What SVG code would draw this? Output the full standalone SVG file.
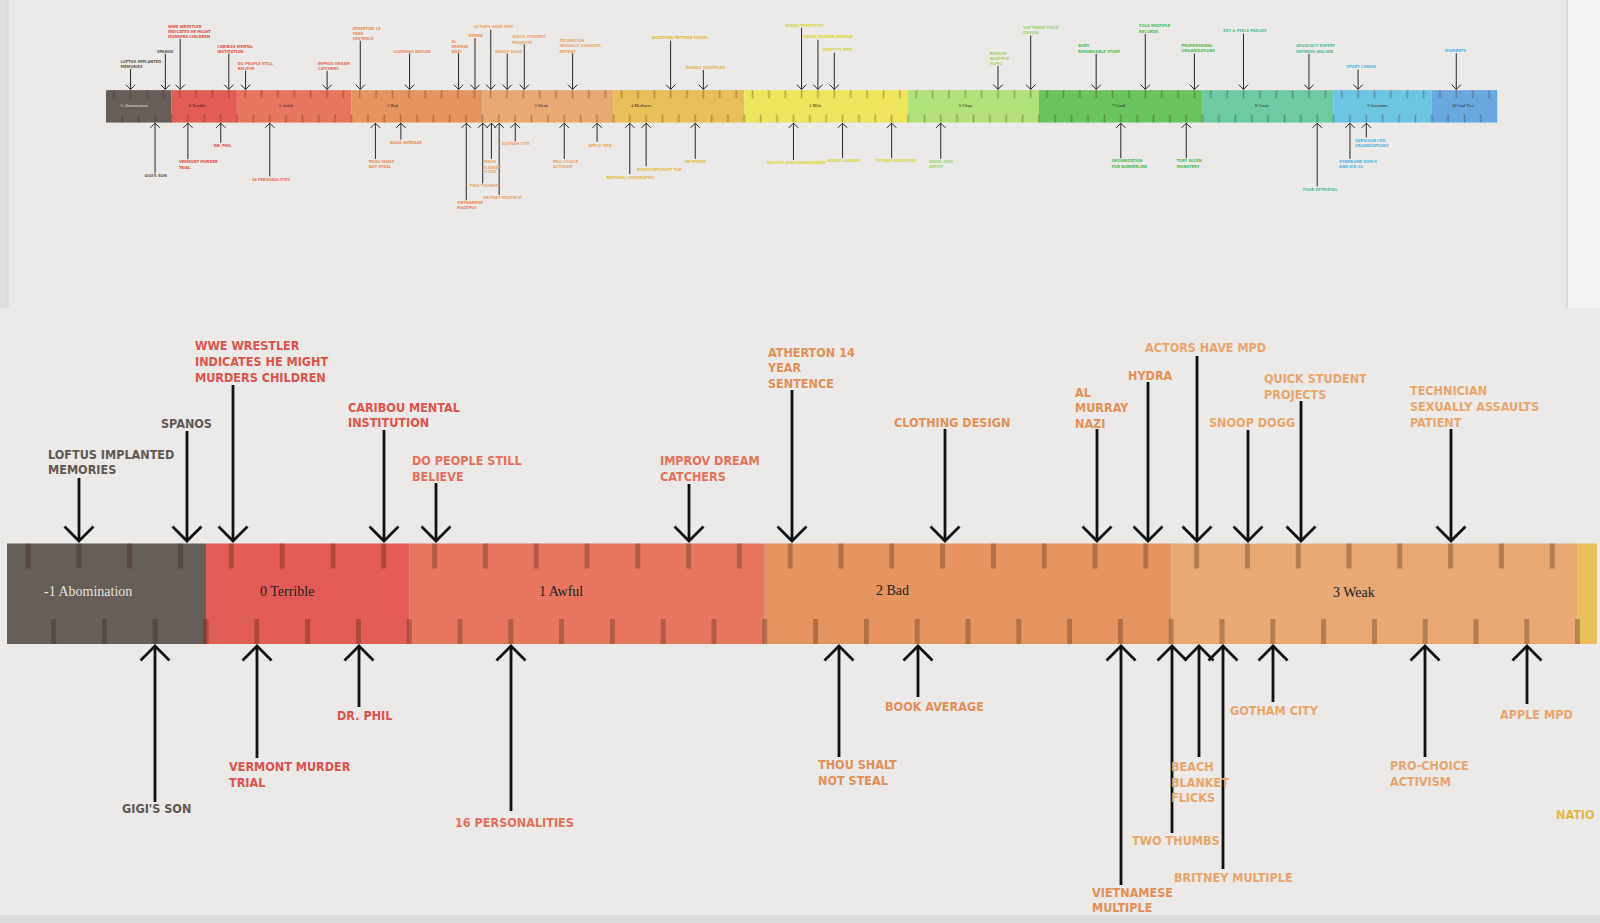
<svg xmlns="http://www.w3.org/2000/svg" xmlns:xlink="http://www.w3.org/1999/xlink" width="1600" height="923" viewBox="0 0 1600 923">
<style>
.lbl{font-family:"DejaVu Sans Condensed","DejaVu Sans",sans-serif;font-stretch:condensed;font-weight:700;font-size:12.5px}
.seg{font-family:"Liberation Serif",serif;font-size:14px;fill:#222}
.cm{fill:#5f5854}.c0{fill:#e0524d}.c1{fill:#e5715a}.c2{fill:#e38f58}.c3{fill:#e8a66c}.c4{fill:#e3b84a}.c5{fill:#ddd53a}.c6{fill:#a2d468}.c7{fill:#55b954}.c8{fill:#55be9c}.c9{fill:#55b5de}
.arr{fill:none;stroke:#111;stroke-width:2.8;marker-end:url(#chev)}
</style>
<defs>
<marker id="chev" markerUnits="userSpaceOnUse" viewBox="-16 -16 32 32" refX="0" refY="0" markerWidth="32" markerHeight="32" orient="auto" overflow="visible">
<path d="M-14.5,-14.5 L0,0 L-14.5,14.5" fill="none" stroke="#111" stroke-width="2.8"/>
</marker>
<pattern id="tkTop" patternUnits="userSpaceOnUse" x="2.8" y="543.5" width="50.8" height="25"><rect x="22.9" y="0" width="5" height="25" fill="#3a1a0a" fill-opacity="0.3"/></pattern>
<pattern id="tkBot" patternUnits="userSpaceOnUse" x="-22.6" y="619" width="50.8" height="25"><rect x="22.9" y="0" width="5" height="25" fill="#3a1a0a" fill-opacity="0.3"/></pattern>
<clipPath id="viewClip"><rect x="7" y="312" width="1590" height="603"/></clipPath>
</defs>
<rect x="0" y="0" width="1600" height="923" fill="#ebeae8"/>
<rect x="0" y="0" width="8" height="308" fill="#e0dfdd"/>
<line x1="8" y1="0" x2="8" y2="308" stroke="#d2d1cf" stroke-width="1"/>
<rect x="1567" y="0" width="33" height="308" fill="#f2f2f1"/>
<line x1="1567" y1="0" x2="1567" y2="308" stroke="#cfcfcd" stroke-width="1.2"/>
<rect x="0" y="915" width="1600" height="8" fill="#dcdbd9"/>

<!-- enlarged view -->
<g id="view" clip-path="url(#viewClip)">
<g id="view-edge">
<rect x="1577.6" y="543.5" width="19.4" height="100.5" fill="#e9bf5b"/>
<g id="n-natio"><text class="lbl c4" x="1556" y="819">NATIO</text></g>
</g>
<g id="tl-main">
<g id="bar-main">
<g id="seg-m1"><rect x="2.8" y="543.5" width="203.2" height="100.5" fill="#665e59"/><text class="seg" x="44" y="596" style="fill:#e6e2de">-1 Abomination</text></g>
<g id="seg-0"><rect x="206" y="543.5" width="203.2" height="100.5" fill="#e25d57"/><text class="seg" x="260" y="596">0 Terrible</text></g>
<g id="seg-1"><rect x="409.2" y="543.5" width="355.6" height="100.5" fill="#e6775e"/><text class="seg" x="539" y="596">1 Awful</text></g>
<g id="seg-2"><rect x="764.8" y="543.5" width="406.4" height="100.5" fill="#e69560"/><text class="seg" x="876" y="595">2 Bad</text></g>
<g id="seg-3"><rect x="1171.2" y="543.5" width="406.4" height="100.5" fill="#eaa972"/><text class="seg" x="1333" y="597">3 Weak</text></g>
<rect x="2.8" y="543.5" width="1574.8" height="25" fill="url(#tkTop)"/>
<rect x="28" y="619" width="1552.1" height="25" fill="url(#tkBot)"/>
</g>
<g id="connectors-main">
<path class="arr" d="M79,478 V541"/>
<path class="arr" d="M187,431 V541"/>
<path class="arr" d="M233,385 V541"/>
<path class="arr" d="M384,430 V541"/>
<path class="arr" d="M436,483 V541"/>
<path class="arr" d="M689,484 V541"/>
<path class="arr" d="M792,390 V541"/>
<path class="arr" d="M945,429 V541"/>
<path class="arr" d="M1097,429 V541"/>
<path class="arr" d="M1148,382 V541"/>
<path class="arr" d="M1197,356 V541"/>
<path class="arr" d="M1248,430 V541"/>
<path class="arr" d="M1301,401 V541"/>
<path class="arr" d="M1451,429 V541"/>
<path class="arr" d="M155,802 V646"/>
<path class="arr" d="M257,758 V646"/>
<path class="arr" d="M359,707 V646"/>
<path class="arr" d="M511,811 V646"/>
<path class="arr" d="M839,757 V646"/>
<path class="arr" d="M918,697 V646"/>
<path class="arr" d="M1121,885 V646"/>
<path class="arr" d="M1172,833 V646"/>
<path class="arr" d="M1199,757 V646"/>
<path class="arr" d="M1223,869 V646"/>
<path class="arr" d="M1273,702 V646"/>
<path class="arr" d="M1425,757 V646"/>
<path class="arr" d="M1527,704 V646"/>
</g>
<g id="nodes-main">
<g id="n-loftus"><text class="lbl cm" x="48" y="459">LOFTUS IMPLANTED<tspan x="48" y="474">MEMORIES</tspan></text></g>
<g id="n-spanos"><text class="lbl cm" x="161" y="428">SPANOS</text></g>
<g id="n-wwe"><text class="lbl c0" x="195" y="350">WWE WRESTLER<tspan x="195" y="366">INDICATES HE MIGHT</tspan><tspan x="195" y="382">MURDERS CHILDREN</tspan></text></g>
<g id="n-caribou"><text class="lbl c0" x="348" y="412">CARIBOU MENTAL<tspan x="348" y="427">INSTITUTION</tspan></text></g>
<g id="n-dopeople"><text class="lbl c1" x="412" y="465">DO PEOPLE STILL<tspan x="412" y="481">BELIEVE</tspan></text></g>
<g id="n-improv"><text class="lbl c1" x="660" y="465">IMPROV DREAM<tspan x="660" y="481">CATCHERS</tspan></text></g>
<g id="n-atherton"><text class="lbl c2" x="768" y="357">ATHERTON 14<tspan x="768" y="372">YEAR</tspan><tspan x="768" y="388">SENTENCE</tspan></text></g>
<g id="n-clothing"><text class="lbl c2" x="894" y="427">CLOTHING DESIGN</text></g>
<g id="n-almurray"><text class="lbl c2" x="1075" y="397">AL<tspan x="1075" y="412">MURRAY</tspan><tspan x="1075" y="428">NAZI</tspan></text></g>
<g id="n-hydra"><text class="lbl c2" x="1128" y="380">HYDRA</text></g>
<g id="n-actors"><text class="lbl c3" x="1145" y="352">ACTORS HAVE MPD</text></g>
<g id="n-snoop"><text class="lbl c3" x="1209" y="427">SNOOP DOGG</text></g>
<g id="n-quick"><text class="lbl c3" x="1264" y="383">QUICK STUDENT<tspan x="1264" y="399">PROJECTS</tspan></text></g>
<g id="n-technician"><text class="lbl c3" x="1410" y="395">TECHNICIAN<tspan x="1410" y="411">SEXUALLY ASSAULTS</tspan><tspan x="1410" y="427">PATIENT</tspan></text></g>
<g id="n-gigi"><text class="lbl cm" x="122" y="813">GIGI'S SON</text></g>
<g id="n-vermont"><text class="lbl c0" x="229" y="771">VERMONT MURDER<tspan x="229" y="787">TRIAL</tspan></text></g>
<g id="n-drphil"><text class="lbl c0" x="337" y="720">DR. PHIL</text></g>
<g id="n-16pers"><text class="lbl c1" x="455" y="827">16 PERSONALITIES</text></g>
<g id="n-thoushalt"><text class="lbl c2" x="818" y="769">THOU SHALT<tspan x="818" y="785">NOT STEAL</tspan></text></g>
<g id="n-bookavg"><text class="lbl c2" x="885" y="711">BOOK AVERAGE</text></g>
<g id="n-vietnamese"><text class="lbl c2" x="1092" y="897">VIETNAMESE<tspan x="1092" y="912">MULTIPLE</tspan></text></g>
<g id="n-twothumbs"><text class="lbl c3" x="1132" y="845">TWO THUMBS</text></g>
<g id="n-beach"><text class="lbl c3" x="1171" y="771">BEACH<tspan x="1171" y="787">BLANKET</tspan><tspan x="1171" y="802">FLICKS</tspan></text></g>
<g id="n-britney"><text class="lbl c3" x="1174" y="882">BRITNEY MULTIPLE</text></g>
<g id="n-gotham"><text class="lbl c3" x="1230" y="715">GOTHAM CITY</text></g>
<g id="n-prochoice"><text class="lbl c3" x="1390" y="770">PRO-CHOICE<tspan x="1390" y="786">ACTIVISM</tspan></text></g>
<g id="n-apple"><text class="lbl c3" x="1500" y="719">APPLE MPD</text></g>
</g>
</g>
</g>

<!-- overview strip -->
<g id="overview" transform="translate(105.1,-84.96) scale(0.3222)">
<g id="tl-rest">
<g id="bar-rest">
<g id="seg-4"><rect x="1577.6" y="543.5" width="406.4" height="100.5" fill="#e9bf5b"/><text class="seg" x="1632" y="596">4 Mediocre</text></g>
<g id="seg-5"><rect x="1984" y="543.5" width="508" height="100.5" fill="#ede55e"/><text class="seg" x="2185" y="596">5 Meh</text></g>
<g id="seg-6"><rect x="2492" y="543.5" width="406.4" height="100.5" fill="#b3e27a"/><text class="seg" x="2650" y="596">6 Okay</text></g>
<g id="seg-7"><rect x="2898.4" y="543.5" width="508" height="100.5" fill="#6bc55f"/><text class="seg" x="3125" y="596">7 Good</text></g>
<g id="seg-8"><rect x="3406.4" y="543.5" width="406.4" height="100.5" fill="#6dcaa3"/><text class="seg" x="3569" y="596">8 Great</text></g>
<g id="seg-9"><rect x="3812.8" y="543.5" width="304.8" height="100.5" fill="#6cc5e2"/><text class="seg" x="3917" y="596">9 Awesome</text></g>
<g id="seg-10"><rect x="4117.6" y="543.5" width="203.2" height="100.5" fill="#69a9e1"/><text class="seg" x="4180" y="596">10 God Tier</text></g>
<rect x="1577.6" y="543.5" width="2743.2" height="25" fill="url(#tkTop)"/>
<rect x="1580.1" y="619" width="2693" height="25" fill="url(#tkBot)"/>
</g>
<g id="connectors-rest">
<path class="arr" d="M1755.2,390 V541"/>
<path class="arr" d="M1856.8,481 V541"/>
<path class="arr" d="M2161.6,350 V541"/>
<path class="arr" d="M2212.4,387 V541"/>
<path class="arr" d="M2263.2,427 V541"/>
<path class="arr" d="M2771.2,468 V541"/>
<path class="arr" d="M2872.8,374 V541"/>
<path class="arr" d="M3076,431 V541"/>
<path class="arr" d="M3228.4,369 V541"/>
<path class="arr" d="M3380.8,430 V541"/>
<path class="arr" d="M3533.2,368 V541"/>
<path class="arr" d="M3736.4,431 V541"/>
<path class="arr" d="M3888.8,480 V541"/>
<path class="arr" d="M4193.6,429 V541"/>
<path class="arr" d="M1628.4,804 V646"/>
<path class="arr" d="M1679.2,780 V646"/>
<path class="arr" d="M1831.6,757 V646"/>
<path class="arr" d="M2136.4,760 V646"/>
<path class="arr" d="M2288.8,755 V646"/>
<path class="arr" d="M2441.2,755 V646"/>
<path class="arr" d="M2593.6,757 V646"/>
<path class="arr" d="M3152.4,755 V646"/>
<path class="arr" d="M3355.6,755 V646"/>
<path class="arr" d="M3762,842 V646"/>
<path class="arr" d="M3863.6,757 V646"/>
<path class="arr" d="M3914.4,690 V646"/>
</g>
<g id="nodes-rest">
<g id="n-buzzfeed"><text class="lbl c4" x="1697" y="386">BUZZFEED PATTERN MODEL</text></g>
<g id="n-phonic"><text class="lbl c4" x="1803" y="477">PHONIC MULTIPLES</text></g>
<g id="n-susan"><text class="lbl c5" x="2110" y="346">SUSAN TERRITY TV</text></g>
<g id="n-green"><text class="lbl c5" x="2166" y="383">GREEN FRAMED MIRROR</text></g>
<g id="n-identity"><text class="lbl c5" x="2228" y="423">IDENTITY MPD</text></g>
<g id="n-person"><text class="lbl c6" x="2746" y="433">PERSON<tspan x="2746" y="449">MULTIPLE</tspan><tspan x="2746" y="464">TOPIC</tspan></text></g>
<g id="n-software"><text class="lbl c6" x="2849" y="355">SOFTWARE FIELD<tspan x="2849" y="370">DESIGN</tspan></text></g>
<g id="n-body"><text class="lbl c7" x="3020" y="411">BODY<tspan x="3020" y="427">REMARKABLE STORY</tspan></text></g>
<g id="n-folk"><text class="lbl c7" x="3209" y="349">FOLK MULTIPLE<tspan x="3209" y="365">RECORDS</tspan></text></g>
<g id="n-professional"><text class="lbl c7" x="3341" y="410">PROFESSIONAL<tspan x="3341" y="426">ORGANIZATIONS</tspan></text></g>
<g id="n-keypeele"><text class="lbl c8" x="3470" y="364">KEY &amp; PEELE PARODY</text></g>
<g id="n-advocacy"><text class="lbl c8" x="3696" y="411">ADVOCACY EXPERT<tspan x="3696" y="427">DEFENDS WALKER</tspan></text></g>
<g id="n-story"><text class="lbl c9" x="3853" y="476">STORY CANON</text></g>
<g id="n-moments"><text class="lbl c9" x="4159" y="425">MOMENTS</text></g>
<g id="n-national"><text class="lbl c4" x="1556" y="819">NATIONAL GEOGRAPHIC</text></g>
<g id="n-dissoc"><text class="lbl c4" x="1651" y="793">DISSOCIATIONIST TOP</text></g>
<g id="n-unpushy"><text class="lbl c4" x="1800" y="771">UN PUSHY</text></g>
<g id="n-doctor"><text class="lbl c5" x="2054" y="774">DOCTOR WHO MANAGEMENT</text></g>
<g id="n-sound"><text class="lbl c5" x="2241" y="768">SOUND LIBRARY</text></g>
<g id="n-tiffany"><text class="lbl c5" x="2390" y="768">TIFFANY SLEEPOVER</text></g>
<g id="n-swiss"><text class="lbl c6" x="2557" y="771">SWISS MISS<tspan x="2557" y="786">ARTIST</tspan></text></g>
<g id="n-org"><text class="lbl c7" x="3124" y="768">ORGANIZATION<tspan x="3124" y="784">FOR BORDERLINE</tspan></text></g>
<g id="n-tory"><text class="lbl c7" x="3326" y="768">TORY ALLEN<tspan x="3326" y="784">MONSTERS</tspan></text></g>
<g id="n-four"><text class="lbl c8" x="3718" y="855">FOUR RETRIEVAL</text></g>
<g id="n-syndrome"><text class="lbl c9" x="3830" y="771">SYNDROME DSM-5<tspan x="3830" y="786">AND ICD-10</tspan></text></g>
<g id="n-survivor"><text class="lbl c9" x="3879" y="703">SURVIVOR-LED<tspan x="3879" y="719">ORGANIZATIONS</tspan></text></g>
</g>
</g>
<use id="overview-main" xlink:href="#tl-main" href="#tl-main"/>
</g>
</svg>
